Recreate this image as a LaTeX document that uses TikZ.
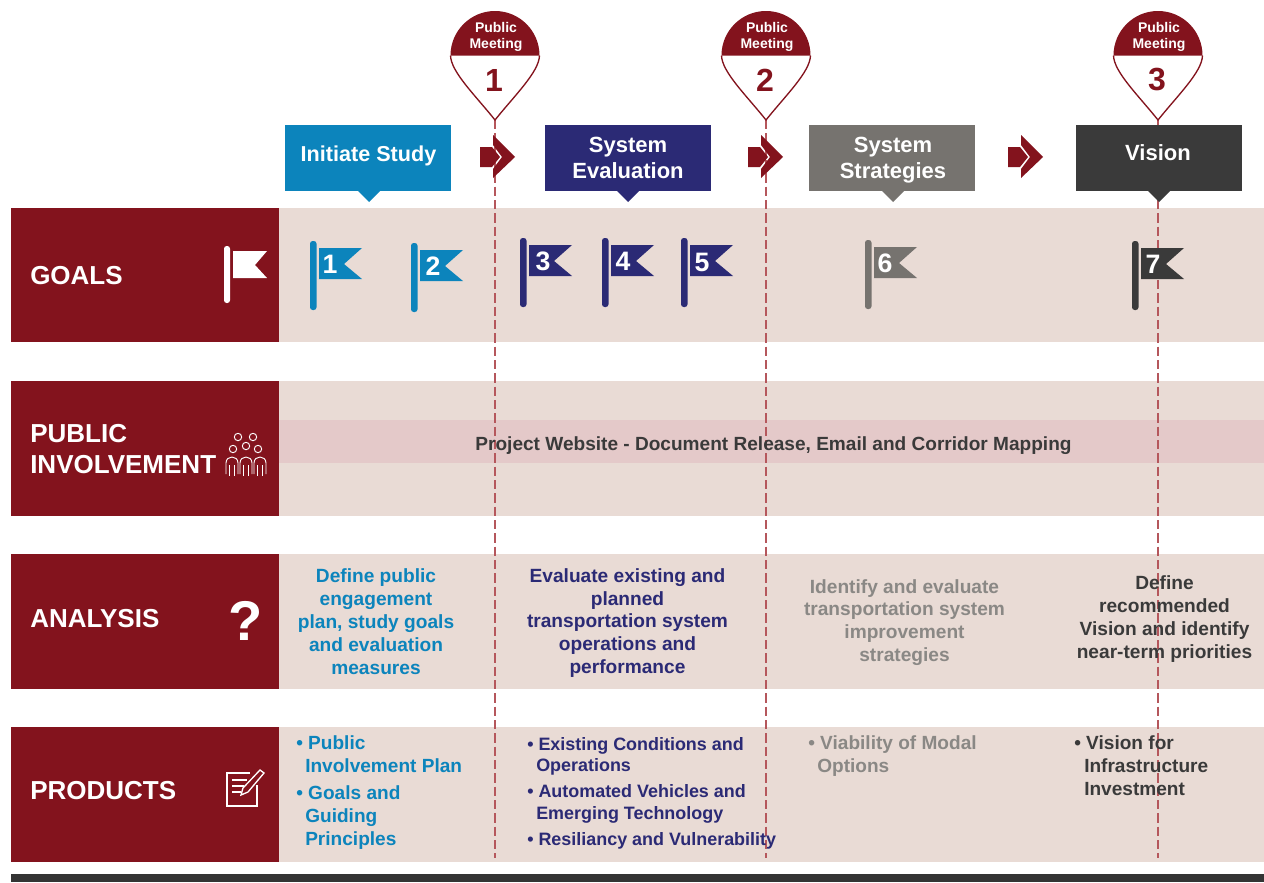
\documentclass[tikz,border=0pt]{standalone}
\usepackage{fontspec}
\setmainfont{Liberation Sans}
\definecolor{maroon}{HTML}{83131D}
\definecolor{band}{HTML}{E9DBD5}
\definecolor{strip}{HTML}{E4C9C9}
\definecolor{cblue}{HTML}{0C84BC}
\definecolor{cnavy}{HTML}{2B2A75}
\definecolor{cgray}{HTML}{76736F}
\definecolor{cdark}{HTML}{3A3A3A}
\definecolor{dash}{HTML}{B5575C}
\newcommand{\fs}[2]{\fontsize{#1}{#2}\selectfont\bfseries}
\tikzset{
  x=0.75pt,y=-0.75pt,
  dark/.style={fill=maroon,draw=none},
  bandbox/.style={fill=band,draw=none},
  rowlabel/.style={text=white,anchor=west,align=left,inner sep=0pt,font=\fs{19.5}{23.5}},
  headbox/.style={text=white,align=center,font=\fs{16.5}{19.2}},
  pintext/.style={text=white,align=center,font=\fs{10.5}{12.6}},
  pinnum/.style={text=maroon,font=\fs{24}{24}},
  stage/.style={draw=dash,dashed,dash pattern=on 7pt off 3pt,line width=0.9pt},
  flagnum/.style={text=white,font=\fs{20}{20}},
  body/.style={align=center,font=\fs{14.35}{17.2}},
  prod/.style={anchor=base west,inner sep=0pt,font=\fs{14.3}{17.2}},
  prodb/.style={anchor=base west,inner sep=0pt,font=\fs{13.45}{17.2}},
  iconline/.style={draw=white,line width=1pt,fill=none},
  peopleline/.style={draw=white,line width=0.7pt,fill=none},
}
\newcommand{\flagshape}[3]{%
  \fill[#3,rounded corners=2pt] (#1-3,#2) rectangle (#1+3.5,#2+69);
  \fill[#3] (#1+6,#2+7) -- (#1+49,#2+7) -- (#1+31,#2+23) -- (#1+49,#2+38) -- (#1+6,#2+38) -- cycle;
}
\newcommand{\headtail}[3]{\fill[#3] (#1-11,#2) -- (#1+11,#2) -- (#1,#2+11) -- cycle;}
\newcommand{\chev}[1]{%
  \fill[maroon] (#1,147) -- (#1+12,147) -- (#1+20,157) -- (#1+12,167) -- (#1,167) -- cycle;
  \fill[maroon] (#1+13,135) -- (#1+35,157) -- (#1+13,178) -- (#1+13,169) -- (#1+22,157) -- (#1+13,145) -- cycle;
}
\newcommand{\pin}[1]{%
  \fill[white] (#1-44.5,55.5) arc[start angle=180,end angle=360,radius=44.5] .. controls (#1+45,72) and (#1+20,95) .. (#1,120) .. controls (#1-20,95) and (#1-45,72) .. cycle;
  \draw[maroon,line width=1pt] (#1-44.5,55.5) .. controls (#1-44,72) and (#1-20,95) .. (#1,120) .. controls (#1+20,95) and (#1+44,72) .. (#1+44.5,55.5);
  \fill[maroon] (#1-44.5,55.5) arc[start angle=180,end angle=360,radius=44.5] -- cycle;
}
\begin{document}
\begin{tikzpicture}
\useasboundingbox (0,0) rectangle (1264,882);
\fill[white] (0,0) rectangle (1264,882);
% bands
\fill[bandbox] (279,208) rectangle (1264,342);
\fill[bandbox] (279,381) rectangle (1264,516);
\fill[strip] (279,420) rectangle (1264,463);
\fill[bandbox] (279,554) rectangle (1264,689);
\fill[bandbox] (279,727) rectangle (1264,862);
\fill[dark] (11,208) rectangle (279,342);
\fill[dark] (11,381) rectangle (279,516);
\fill[dark] (11,554) rectangle (279,689);
\fill[dark] (11,727) rectangle (279,862);
\fill[cdark!90!black] (11,874) rectangle (1264,882);
% pin tips and stage lines
\coordinate (tip1) at (495,120); \coordinate (end1) at (495,858);
\coordinate (tip2) at (766,120); \coordinate (end2) at (766,858);
\coordinate (tip3) at (1158,120); \coordinate (end3) at (1158,858);
\draw[stage] (tip1) -- (end1);
\draw[stage] (tip2) -- (end2);
\draw[stage] (tip3) -- (end3);
% pins
\pin{495}\pin{766}\pin{1158}
\node[pintext] (pm1) at (496,37) {Public\\Meeting};
\node[pintext] (pm2) at (767,37) {Public\\Meeting};
\node[pintext] (pm3) at (1159,37) {Public\\Meeting};
\node[pinnum] (n1) at (494,80) {1};
\node[pinnum] (n2) at (765,80) {2};
\node[pinnum] (n3) at (1157,80) {3};
% header boxes
\fill[cblue] (285,125) rectangle (451,191); \headtail{369}{191}{cblue}
\fill[cnavy] (545,125) rectangle (711,191); \headtail{628}{191}{cnavy}
\fill[cgray] (809,125) rectangle (975,191); \headtail{893}{191}{cgray}
\fill[cdark] (1076,125) rectangle (1242,191); \headtail{1159}{191}{cdark}
\node[headbox,font=\fs{16.2}{19.2}] (h1) at (368.5,156) {Initiate Study};
\node[headbox] (h2) at (628,158) {System\\Evaluation};
\node[headbox] (h3) at (893,160) {System\\Strategies};
\node[headbox] (h4) at (1158,153) {Vision};
\chev{480}\chev{748}\chev{1008}
% row labels
\node[rowlabel] (lgoals) at (30,276) {GOALS};
\node[rowlabel] (lpub) at (30,449) {PUBLIC\\INVOLVEMENT};
\node[rowlabel] (lana) at (30,619) {ANALYSIS};
\node[rowlabel] (lprod) at (30,791) {PRODUCTS};
% row icons
\fill[white,rounded corners=2pt] (224,246) rectangle (230,303);
\fill[white] (233,251) -- (267,251) -- (255,265) -- (267,278) -- (233,278) -- cycle;
\node[text=white,font=\fs{42}{42}] (qm) at (246,621) {?};
% people icon
\foreach \px/\py in {238/437,253/437,233/449,246/446,258/449}
  \draw[peopleline] (\px,\py) circle[radius=3.7];
\foreach \bx in {232,246,260}{
  \draw[peopleline] (\bx-6,474) -- (\bx-6,463) .. controls (\bx-6,455) and (\bx+6,455) .. (\bx+6,463) -- (\bx+6,474);
  \draw[peopleline] (\bx-2.5,476) -- (\bx-2.5,465);
  \draw[peopleline] (\bx+2.5,476) -- (\bx+2.5,465);
}
% note icon
\draw[iconline] (250,773) -- (227,773) -- (227,806) -- (257,806) -- (257,785);
\draw[iconline] (232,780) -- (247,780);
\draw[iconline] (232,786) -- (244,786);
\draw[iconline] (232,792) -- (241,792);
\draw[iconline] (241,795) -- (243,788) -- (260,770) -- (264,773) -- (248,792) -- cycle;
% flags
\flagshape{313}{241}{cblue}
\flagshape{414}{243}{cblue}
\flagshape{523}{238}{cnavy}
\flagshape{605}{238}{cnavy}
\flagshape{684}{238}{cnavy}
\flagshape{868}{240}{cgray}
\flagshape{1135}{241}{cdark}
\node[flagnum] (f1) at (330,264) {1};
\node[flagnum] (f2) at (433,266) {2};
\node[flagnum] (f3) at (543,261) {3};
\node[flagnum] (f4) at (623,261) {4};
\node[flagnum] (f5) at (702,262) {5};
\node[flagnum] (f6) at (885,263) {6};
\node[flagnum] (f7) at (1153,264) {7};
% public involvement strip
\node[text=cdark,font=\fs{14.3}{17}] (web) at (773.5,446) {Project Website - Document Release, Email and Corridor Mapping};
% analysis
\node[body,text=cblue] (a1) at (376,621.5) {Define public\\engagement\\plan, study goals\\and evaluation\\measures};
\node[body,text=cnavy] (a2) at (627.5,623) {Evaluate existing and\\planned\\transportation system\\operations and\\performance};
\node[body,text=cgray!85] (a3) at (904.5,622.5) {Identify and evaluate\\transportation system\\improvement\\strategies};
\node[body,text=cdark] (a4) at (1164.5,619) {Define\\recommended\\Vision and identify\\near-term priorities};
% products
\node[prod,text=cblue] (p1a) at (296,749) {• Public};
\node[prod,text=cblue] (p1b) at (305,772) {Involvement Plan};
\node[prod,text=cblue] (p1c) at (296,799) {• Goals and};
\node[prod,text=cblue] (p1d) at (305,822) {Guiding};
\node[prod,text=cblue] (p1e) at (305,845) {Principles};
\node[prodb,text=cnavy] (p2a) at (527,750) {• Existing Conditions and};
\node[prodb,text=cnavy] (p2b) at (536,771) {Operations};
\node[prodb,text=cnavy] (p2c) at (527,797) {• Automated Vehicles and};
\node[prodb,text=cnavy] (p2d) at (536,819) {Emerging Technology};
\node[prodb,text=cnavy] (p2e) at (527,845) {• Resiliancy and Vulnerability};
\node[prod,text=cgray!85] (p3a) at (808,749) {• Viability of Modal};
\node[prod,text=cgray!85] (p3b) at (817,772) {Options};
\node[prod,text=cdark] (p4a) at (1074,749) {• Vision for};
\node[prod,text=cdark] (p4b) at (1084,772) {Infrastructure};
\node[prod,text=cdark] (p4c) at (1084,795) {Investment};
\end{tikzpicture}
\end{document}
